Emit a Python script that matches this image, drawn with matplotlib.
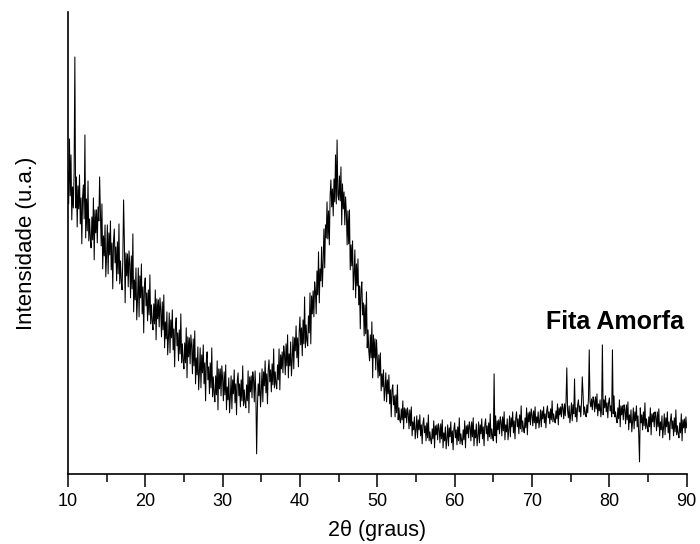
import matplotlib.pyplot as plt
import numpy as np
from matplotlib.ticker import MultipleLocator

plt.rcParams['font.family'] = ['Liberation Sans', 'DejaVu Sans']

# 2theta de 10 a 90 graus, passo 0.1
two_theta = np.linspace(10, 90, 801)

intensidade = [
    303, 270, 335, 278, 319, 254, 287, 266, 300, 417,   # 10
    266, 297, 247, 288, 265, 299, 250, 276, 230, 277,   # 11
    289, 255, 339, 236, 275, 243, 293, 233, 255, 235,   # 12
    226, 257, 234, 276, 214, 264, 241, 264, 231, 267,   # 13
    253, 297, 262, 228, 270, 205, 238, 218, 249, 197,   # 14
    218, 249, 200, 241, 219, 253, 204, 231, 185, 233,   # 15
    245, 211, 227, 193, 232, 200, 250, 190, 213, 193,   # 16
    184, 215, 274, 233, 171, 221, 198, 220, 187, 223,   # 17
    209, 176, 218, 185, 240, 162, 194, 174, 206, 154,   # 18
    175, 206, 157, 198, 176, 210, 160, 187, 141, 189,   # 19
    196, 168, 181, 153, 184, 159, 199, 150, 169, 152,   # 20
    144, 170, 150, 184, 134, 175, 155, 174, 147, 176,   # 21
    164, 137, 172, 144, 179, 126, 152, 135, 162, 119,   # 22
    136, 161, 121, 154, 136, 164, 124, 145, 107, 147,   # 23
    156, 128, 141, 113, 144, 120, 160, 111, 130, 113,   # 24
    105, 131, 111, 146, 96, 137, 117, 136, 110, 139,    # 25
    127, 100, 135, 108, 143, 90, 116, 99, 127, 84,      # 26
    101, 126, 86, 119, 101, 129, 90, 111, 73, 113,      # 27
    122, 94, 107, 80, 111, 86, 126, 77, 97, 80,         # 28
    72, 98, 79, 113, 64, 105, 85, 105, 78, 108,         # 29
    95, 73, 102, 79, 109, 64, 87, 74, 96, 61,           # 30
    76, 98, 65, 94, 80, 104, 71, 90, 59, 93,            # 31
    101, 78, 90, 67, 94, 73, 108, 68, 84, 71,           # 32
    66, 89, 73, 103, 61, 97, 82, 98, 76, 102,           # 33
    94, 72, 103, 80, 20, 67, 90, 78, 101, 67,           # 34
    82, 105, 72, 102, 88, 113, 81, 100, 70, 104,        # 35
    114, 92, 104, 82, 110, 89, 125, 86, 102, 90,        # 36
    85, 109, 94, 125, 84, 119, 105, 122, 101, 128,      # 37
    120, 99, 130, 108, 139, 96, 120, 108, 132, 98,      # 38
    114, 137, 105, 136, 123, 148, 116, 136, 107, 142,   # 39
    157, 129, 146, 118, 154, 130, 177, 126, 149, 133,   # 40
    128, 158, 141, 181, 130, 178, 160, 183, 157, 192,   # 41
    183, 160, 203, 179, 222, 171, 205, 193, 227, 187,   # 42
    212, 245, 206, 249, 236, 272, 235, 263, 229, 278,   # 43
    294, 267, 285, 258, 295, 272, 319, 270, 334, 279,   # 44
    274, 298, 273, 307, 249, 290, 265, 282, 249, 277,   # 45
    261, 229, 263, 230, 264, 204, 229, 208, 233, 184,   # 46
    200, 224, 176, 210, 188, 215, 169, 188, 145, 185,   # 47
    192, 159, 171, 138, 169, 140, 182, 126, 144, 123,   # 48
    113, 139, 116, 152, 96, 139, 116, 135, 104, 134,    # 49
    116, 96, 119, 98, 121, 83, 100, 87, 104, 73,        # 50
    84, 101, 72, 94, 80, 99, 70, 84, 57, 84,            # 51
    89, 69, 78, 57, 79, 61, 89, 54, 66, 54,             # 52
    51, 65, 54, 73, 45, 66, 56, 65, 51, 66,             # 53
    60, 45, 64, 48, 67, 38, 52, 44, 57, 35,             # 54
    44, 58, 36, 54, 44, 59, 38, 49, 30, 50,             # 55
    56, 41, 48, 33, 51, 36, 59, 33, 42, 34,             # 56
    30, 45, 35, 53, 26, 48, 39, 49, 34, 50,             # 57
    45, 31, 50, 35, 54, 26, 41, 33, 47, 25,             # 58
    35, 49, 28, 46, 37, 52, 31, 43, 24, 45,             # 59
    51, 36, 44, 29, 47, 33, 56, 30, 40, 33,             # 60
    29, 44, 34, 53, 26, 48, 40, 49, 36, 52,             # 61
    47, 33, 52, 37, 56, 28, 44, 36, 50, 28,             # 62
    38, 52, 31, 49, 40, 55, 35, 47, 28, 49,             # 63
    55, 40, 48, 33, 51, 37, 60, 35, 45, 37,             # 64
    33, 100, 38, 58, 31, 53, 44, 54, 40, 57,            # 65
    52, 38, 57, 43, 62, 34, 49, 42, 55, 34,             # 66
    44, 58, 37, 56, 47, 62, 41, 53, 35, 56,             # 67
    62, 47, 55, 40, 59, 45, 68, 42, 53, 45,             # 68
    41, 56, 46, 66, 39, 61, 52, 62, 49, 65,             # 69
    59, 48, 63, 51, 67, 45, 57, 51, 62, 46,             # 70
    53, 64, 47, 63, 55, 67, 51, 60, 46, 63,             # 71
    68, 56, 62, 50, 65, 54, 73, 52, 60, 54,             # 72
    51, 63, 55, 70, 49, 66, 59, 67, 57, 70,             # 73
    66, 55, 70, 58, 73, 106, 63, 56, 68, 51,            # 74
    59, 71, 53, 69, 60, 95, 57, 66, 52, 69,             # 75
    74, 62, 68, 57, 71, 97, 80, 59, 67, 60,             # 76
    57, 69, 61, 76, 124, 72, 67, 75, 64, 77,            # 77
    73, 62, 77, 65, 80, 58, 70, 63, 74, 57,             # 78
    65, 129, 59, 74, 66, 78, 62, 71, 56, 71,            # 79
    76, 63, 68, 57, 124, 60, 78, 57, 62, 55,            # 80
    51, 66, 55, 74, 47, 68, 59, 68, 54, 69,             # 81
    64, 50, 69, 54, 72, 44, 59, 51, 64, 42,             # 82
    52, 66, 45, 62, 53, 68, 47, 58, 39, 12,             # 83
    66, 51, 59, 44, 62, 48, 71, 45, 55, 47,             # 84
    42, 57, 47, 66, 39, 60, 52, 61, 47, 62,             # 85
    57, 43, 62, 47, 65, 38, 52, 44, 58, 36,             # 86
    46, 60, 39, 56, 47, 62, 41, 52, 34, 54,             # 87
    60, 45, 53, 38, 56, 42, 64, 39, 48, 40,             # 88
    36, 51, 41, 60, 33, 54, 46, 55, 41, 57,             # 89
    46,                                                 # 90
]

fig = plt.figure(figsize=(7, 5.44), dpi=100)
ax = fig.add_axes([0.097, 0.129, 0.884, 0.849])

ax.plot(two_theta, intensidade, color='black', linewidth=0.75)

ax.set_xlim(10, 90)
ax.set_ylim(0, 462)
ax.xaxis.set_major_locator(MultipleLocator(10))
ax.xaxis.set_minor_locator(MultipleLocator(5))
ax.tick_params(axis='x', which='major', direction='out', length=9, width=1.1,
               labelsize=13, pad=5)
ax.tick_params(axis='x', which='minor', direction='out', length=6, width=1.1)
ax.set_yticks([])

for side in ['top', 'right']:
    ax.spines[side].set_visible(False)
for side in ['left', 'bottom']:
    ax.spines[side].set_linewidth(1.2)

ax.set_xlabel('2θ (graus)', fontsize=15.5)
ax.set_ylabel('Intensidade (u.a.)', fontsize=16)
ax.xaxis.set_label_coords(0.5, -0.10)
ax.yaxis.set_label_coords(-0.05, 0.5)

ax.text(80.7, 152, 'Fita Amorfa', fontsize=18, fontweight='bold', ha='center', va='center')

plt.savefig('out.png')
plt.close()
